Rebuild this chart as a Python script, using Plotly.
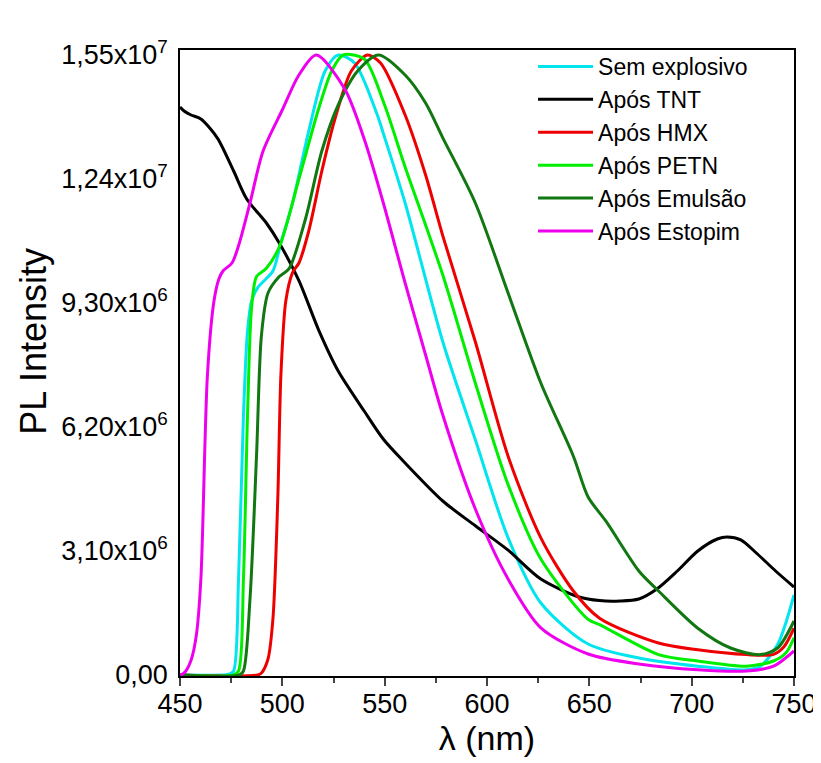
import plotly.graph_objects as go

# wavelength (nm) / PL intensity pairs
sem_x = [450, 470, 474, 476.2, 478.6, 481, 483, 485, 488.2, 491, 495.4, 499.3, 505, 512.9, 520.9, 527.3,
         535.3, 546.4, 549.6, 560, 578.4, 594.3, 610.3, 626.3, 649.4, 674.2, 703, 726.8, 733.6, 742, 746, 750]
sem_y = [0, 0, 2e4, 1e5, 2.4e6, 6.5e6, 8.6e6, 9.35e6, 9.7e6, 9.85e6, 1.01e7, 1.08e7, 1.18e7, 1.36e7, 1.51e7, 1.55e7,
         1.53e7, 1.4e7, 1.35e7, 1.18e7, 8.33e6, 5.88e6, 3.43e6, 1.8e6, 7.75e5, 4.25e5, 2.2e5, 1.3e5, 2.2e5, 7.6e5, 1.3e6, 2.0e6]

tnt_x = [450, 452, 455.4, 460.2, 468.2, 476.2, 482.6, 492.2, 498.5, 508.1, 517.7, 527.3, 540, 549.6, 560, 578.4,
         594.3, 610.3, 626.3, 645, 655, 665, 674.2, 683, 693, 703, 712.5, 717.3, 724, 731.6, 741, 750]
tnt_y = [1.42e7, 1.41e7, 1.40e7, 1.39e7, 1.343e7, 1.26e7, 1.19e7, 1.13e7, 1.08e7, 9.86e6, 8.63e6, 7.6e6, 6.6e6,
         5.88e6, 5.3e6, 4.35e6, 3.73e6, 3.12e6, 2.4e6, 1.95e6, 1.86e6, 1.85e6, 1.9e6, 2.15e6, 2.6e6, 3.1e6, 3.4e6,
         3.45e6, 3.38e6, 3.05e6, 2.6e6, 2.2e6]

hmx_x = [450, 488, 489.8, 493, 495.4, 497.8, 499.3, 501.7, 505, 508.1, 512.9, 519.3, 525.7, 533.7, 541.6, 548,
         560, 570, 578.4, 594.3, 610.3, 626.3, 642.2, 655, 683.8, 703, 726.8, 739.7, 745, 750]
hmx_y = [0, 0, 5e4, 4e5, 1.4e6, 4.45e6, 7.5e6, 9.35e6, 1.006e7, 1.03e7, 1.11e7, 1.26e7, 1.39e7, 1.51e7, 1.55e7,
         1.53e7, 1.4e7, 1.25e7, 1.098e7, 8.33e6, 5.47e6, 3.43e6, 2.1e6, 1.42e6, 8e5, 6.3e5, 5.1e5, 5.1e5, 7e5, 1.17e6]

petn_x = [450, 476, 478.6, 481, 483, 485, 487.4, 492.1, 498.5, 508.1, 517.7, 524.1, 529.7, 540, 549.6, 560,
          578.4, 594.3, 610.3, 626.3, 649.4, 655, 683.8, 703, 726.8, 740, 746, 750]
petn_y = [0, 0, 1e5, 2.4e6, 6.5e6, 9.2e6, 9.96e6, 1.016e7, 1.07e7, 1.24e7, 1.415e7, 1.51e7, 1.55e7, 1.54e7,
          1.43e7, 1.27e7, 1e7, 7.3e6, 4.76e6, 2.9e6, 1.39e6, 1.26e6, 5.1e5, 3.5e5, 2.2e5, 3.5e5, 5.5e5, 9.3e5]

emul_x = [450, 479, 481, 484.2, 487.4, 489.8, 493, 498.5, 503.3, 511.3, 519.3, 527.3, 536.8, 547, 560, 570,
          578.4, 594.3, 610.3, 626.3, 642.2, 649.4, 658.2, 674.2, 683.8, 703, 719, 733.6, 742, 750]
emul_y = [0, 0, 1e5, 1.9e6, 5.5e6, 8.5e6, 9.55e6, 9.96e6, 1.016e7, 1.14e7, 1.31e7, 1.425e7, 1.51e7, 1.55e7,
          1.5e7, 1.43e7, 1.343e7, 1.18e7, 9.55e6, 7.3e6, 5.47e6, 4.45e6, 3.84e6, 2.6e6, 2.1e6, 1.17e6, 6.75e5,
          5.1e5, 6.75e5, 1.35e6]

esto_x = [450, 452.2, 455.4, 458, 460.2, 463.4, 466.6, 469, 471, 475.4, 479, 484.2, 490.6, 500.2, 508.1, 516.6,
          530.5, 540, 548.8, 560, 570, 578.4, 594.3, 610.3, 626.3, 649.4, 674.2, 703, 726.8, 740, 750]
esto_y = [0, 6e4, 3.7e5, 1e6, 2.4e6, 7.5e6, 9.35e6, 9.9e6, 1.01e7, 1.03e7, 1.08e7, 1.18e7, 1.31e7, 1.415e7,
          1.5e7, 1.55e7, 1.465e7, 1.34e7, 1.19e7, 9.8e6, 8e6, 6.5e6, 4.15e6, 2.4e6, 1.18e6, 5.25e5, 2.75e5,
          1.3e5, 1e5, 2.2e5, 6e5]

series = [
    ("Sem explosivo", sem_x, sem_y, "#00e5ee"),
    ("Após TNT", tnt_x, tnt_y, "#000000"),
    ("Após HMX", hmx_x, hmx_y, "#ee0000"),
    ("Após PETN", petn_x, petn_y, "#00ee00"),
    ("Após Emulsão", emul_x, emul_y, "#117711"),
    ("Após Estopim", esto_x, esto_y, "#ee00ee"),
]

y_ticks = [0, 3.1e6, 6.2e6, 9.3e6, 1.24e7, 1.55e7]
y_labels = ["0,00", "3,10x10<sup>6</sup>", "6,20x10<sup>6</sup>", "9,30x10<sup>6</sup>",
            "1,24x10<sup>7</sup>", "1,55x10<sup>7</sup>"]
x_ticks = [450, 500, 550, 600, 650, 700, 750]

tick_font = dict(family="Liberation Sans Narrow, Liberation Sans, Arial", size=27, color="black")

fig = go.Figure()
for name, xs, ys, col in series:
    fig.add_trace(go.Scatter(x=xs, y=ys, name=name, mode="lines",
                             line=dict(color=col, width=3, shape="spline", smoothing=0.8)))

fig.update_layout(
    width=821, height=763,
    margin=dict(l=172, r=23, t=42, b=95),
    paper_bgcolor="white", plot_bgcolor="white",
    font=dict(family="Liberation Sans, Arial", color="black", size=24),
    legend=dict(x=0.575, y=1.008, xanchor="left", yanchor="top", bgcolor="rgba(0,0,0,0)",
                font=dict(size=23), tracegroupgap=0, itemwidth=55),
    showlegend=True,
)
# y title placed a little above centre, as in the original
fig.add_annotation(text="PL Intensity", xref="paper", yref="paper", x=-0.24, y=0.535,
                   xanchor="center", yanchor="middle",
                   textangle=-90, showarrow=False, font=dict(size=36))
fig.update_xaxes(
    range=[450, 750], tickvals=x_ticks, ticks="outside", ticklen=8, tickwidth=1.5,
    minor=dict(ticks="outside", ticklen=5, dtick=25, tick0=450, tickwidth=1.5),
    tickfont=tick_font, ticklabelstandoff=-5,
    showline=True, linecolor="black", linewidth=1.5, mirror=True, showgrid=False, zeroline=False,
    title=dict(text="λ (nm)", font=dict(size=34), standoff=2),
)
fig.update_yaxes(
    range=[-2.5e4, 1.5625e7], tickvals=y_ticks, ticktext=y_labels, ticks="",
    tickfont=tick_font, ticklabelstandoff=5,
    showline=True, linecolor="black", linewidth=1.5, mirror=True, showgrid=False, zeroline=False,
)

fig.write_html("out.html")
